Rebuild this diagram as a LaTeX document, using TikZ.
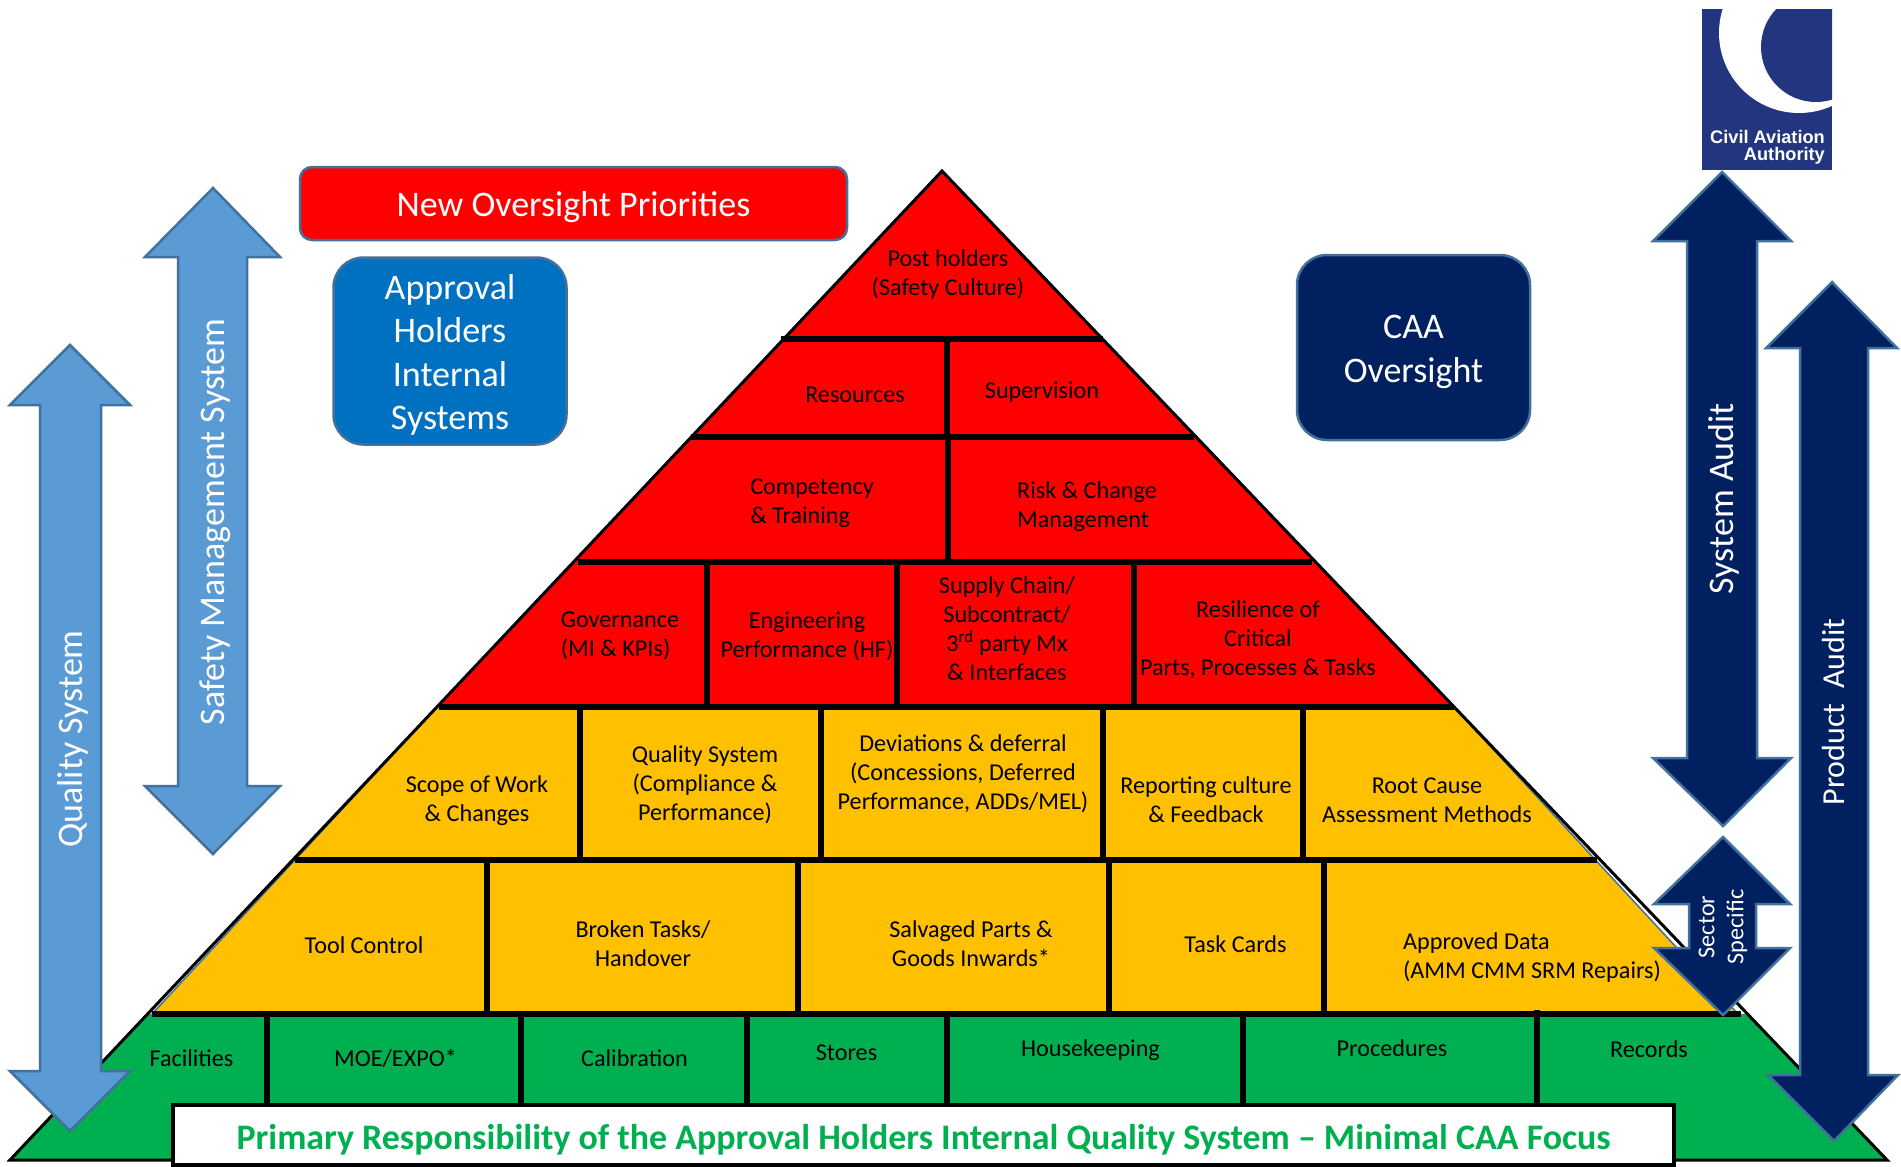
\documentclass[tikz,border=0pt]{standalone}
\usepackage{fontspec}
\setmainfont{Carlito}
\newfontfamily\logofont{Liberation Sans}
\definecolor{qred}{HTML}{FF0000}
\definecolor{qorange}{HTML}{FFC000}
\definecolor{qgreen}{HTML}{00B050}
\definecolor{qlight}{HTML}{5B9BD5}
\definecolor{qdark}{HTML}{002060}
\definecolor{qblue}{HTML}{0070C0}
\definecolor{qedge}{HTML}{41719C}
\definecolor{qlogo}{HTML}{23357F}
\tikzset{
  sep/.style={line width=5.5pt,black,line cap=butt},
  lightarrow/.style={fill=qlight,draw=qedge,line width=2.5pt,line join=miter},
  darkarrow/.style={fill=qdark,draw=qedge,line width=2.5pt,line join=miter},
  lab/.style={inner sep=0pt,align=center,font=\fontsize{24.2}{29}\selectfont,text=black},
  labl/.style={lab,align=left},
  big/.style={inner sep=0pt,align=center,font=\fontsize{36}{43.5}\selectfont,text=white},
  side/.style={big,rotate=90,font=\fontsize{36}{40}\selectfont},
  roundbox/.style={draw=qedge,line width=2.5pt,inner sep=0pt,align=center,text=white,font=\fontsize{36}{43.5}\selectfont},
  logotext/.style={inner sep=0pt,anchor=base east,text=white,font=\logofont\fontsize{18.2}{20}\selectfont\bfseries},
}
\begin{document}
\begin{tikzpicture}[x=1pt,y=-1pt]
\useasboundingbox (0,0) rectangle (1901,1167);
% pyramid
\fill[white] (942,171) -- (10,1160) -- (1887,1160) -- cycle;
\fill[qred] (942,171) -- (437,707) -- (1454,707) -- cycle;
\fill[qorange] (437,707) -- (1454,707) -- (1738,1014) -- (152,1014) -- cycle;
\draw[qedge,line width=1.5pt] (1454,707) -- (1738,1014);
\draw[qedge,line width=1.5pt] (437,707) -- (152,1014);
\fill[qgreen] (148,1014) -- (1747,1014) -- (1887,1160) -- (10,1160) -- cycle;
\draw[black,line width=3pt,line join=miter] (942,171) -- (10,1160) -- (1887,1160) -- cycle;
% horizontal rows
\draw[sep] (781,339) -- (1103,339);
\draw[sep] (691,437) -- (1194,437);
\draw[sep] (578,562) -- (1312,562);
\draw[sep] (439,707) -- (1454,707);
\draw[sep] (295,860) -- (1597,860);
\draw[sep] (152,1014) -- (1741,1014);
% vertical separators
\draw[sep] (947,339) -- (947,437);
\draw[sep] (948,437) -- (948,562);
\foreach \x in {707,897,1134} \draw[sep] (\x,562) -- (\x,707);
\foreach \x in {580,821,1103,1303} \draw[sep] (\x,707) -- (\x,860);
\foreach \x in {487,798,1109,1324} \draw[sep] (\x,860) -- (\x,1014);
\foreach \x in {267,521,747,947,1243} \draw[sep] (\x,1014) -- (\x,1105);
\draw[sep] (1537,1010) -- (1537,1105);
% white banner
\node[draw=black,fill=white,line width=4pt,minimum width=1501pt,minimum height=60pt,inner sep=0pt,
  text=qgreen] (banner) at (923.5,1135) {};
\node[inner sep=0pt,text=qgreen,font=\fontsize{35.9}{40}\selectfont\bfseries] (bannertext) at (923.5,1140) {Primary Responsibility of the Approval Holders Internal Quality System – Minimal CAA Focus};
% row labels
\node[lab] (l1) at (948,275) {Post holders\\(Safety Culture)};
\node[lab] (l2) at (855,395) {Resources};
\node[lab] (l3) at (1042,392.5) {Supervision};
\node[labl] (l4) at (812,503.5) {Competency\\\& Training};
\node[labl] (l5) at (1087,507) {Risk \& Change\\Management};
\node[labl] (l6) at (620,636) {Governance\\(MI \& KPIs)};
\node[lab] (l7) at (807,636) {Engineering\\Performance (HF)};
\node[lab] (l8) at (1007,629) {Supply Chain/\\Subcontract/\\3\textsuperscript{rd} party Mx\\\& Interfaces};
\node[lab] (l9) at (1258,640) {Resilience of\\Critical\\Parts, Processes \& Tasks};
\node[lab] (l10) at (477,801) {Scope of Work\\\& Changes};
\node[lab] (l11) at (705,785) {Quality System\\(Compliance \&\\Performance)};
\node[lab] (l12) at (963,774) {Deviations \& deferral\\(Concessions, Deferred\\Performance, ADDs/MEL)};
\node[lab] (l13) at (1206,800) {Reporting culture\\\& Feedback};
\node[lab] (l14) at (1427,800) {Root Cause\\Assessment Methods};
\node[lab] (l15) at (364,945) {Tool Control};
\node[lab] (l16) at (643,943.5) {Broken Tasks/\\Handover};
\node[lab] (l17) at (971,943.5) {Salvaged Parts \&\\Goods Inwards*};
\node[lab] (l18) at (1235.5,944) {Task Cards};
\node[labl] (l19) at (1532,958) {Approved Data\\(AMM CMM SRM Repairs)};
\node[lab] (l20) at (191.5,1058) {Facilities};
\node[lab] (l21) at (395.5,1058) {MOE/EXPO*};
\node[lab] (l22) at (634.5,1058) {Calibration};
\node[lab] (l23) at (846.5,1053) {Stores};
\node[lab] (l24) at (1090.5,1050.5) {Housekeeping};
\node[lab] (l25) at (1392,1048.5) {Procedures};
\node[lab] (l26) at (1649,1049.5) {Records};
% boxes
\node[roundbox,fill=qred,rounded corners=12pt,minimum width=547pt,minimum height=73pt] (priorities) at (573.5,203.5) {};
\node[inner sep=0pt,text=white,font=\fontsize{36}{43.5}\selectfont] (prioritiestext) at (573.5,207) {New Oversight Priorities};
\node[roundbox,fill=qblue,rounded corners=30pt,minimum width=233pt,minimum height=187pt] (approval) at (450,351) {};
\node[big] (approvaltext) at (450,355) {Approval\\Holders\\Internal\\Systems};
\node[roundbox,fill=qdark,rounded corners=30pt,minimum width=233pt,minimum height=185pt] (caa) at (1413.5,347.5) {};
\node[big] (caatext) at (1413.5,352) {CAA\\Oversight};
% double arrows
\draw[lightarrow] (70,345) -- (130,405) -- (101,405) -- (101,1071) -- (130,1071) -- (70,1131) -- (10,1071) -- (40,1071) -- (40,405) -- (10,405) -- cycle;
\draw[lightarrow] (213,188) -- (280,257) -- (247,257) -- (247,786) -- (280,786) -- (213,854) -- (145,786) -- (178,786) -- (178,257) -- (145,257) -- cycle;
\draw[darkarrow] (1722,172) -- (1791,241) -- (1757,241) -- (1757,758) -- (1791,758) -- (1723,826) -- (1653,758) -- (1687,758) -- (1687,241) -- (1653,241) -- cycle;
\draw[darkarrow] (1832,282) -- (1897,348) -- (1868,348) -- (1868,1075) -- (1898,1075) -- (1834,1141) -- (1768,1075) -- (1800,1075) -- (1800,348) -- (1766,348) -- cycle;
\draw[darkarrow] (1723,837) -- (1790,904) -- (1756,904) -- (1756,948) -- (1790,948) -- (1723,1015) -- (1654,948) -- (1689,948) -- (1689,904) -- (1654,904) -- cycle;
% arrow labels
\node[side] (qs) at (73,739) {Quality System};
\node[side] (sms) at (215,522) {Safety Management System};
\node[side] (sysa) at (1724,498.5) {System Audit};
\node[side,font=\fontsize{32}{40}\selectfont] (proda) at (1833,712) {Product\ \ Audit};
\node[lab,rotate=90,text=white] (sector) at (1723,927) {Sector\\Specific};
% logo
\begin{scope}
\fill[qlogo] (1702,9) rectangle (1832,170);
\clip (1702,9) rectangle (1832,170);
\fill[white] (1799,33) circle[radius=80];
\fill[qlogo] (1816,47) circle[radius=55];
\end{scope}
\node[logotext] (logo1) at (1825,143) {Civil Aviation};
\node[logotext] (logo2) at (1825,160) {Authority};
\end{tikzpicture}
\end{document}
